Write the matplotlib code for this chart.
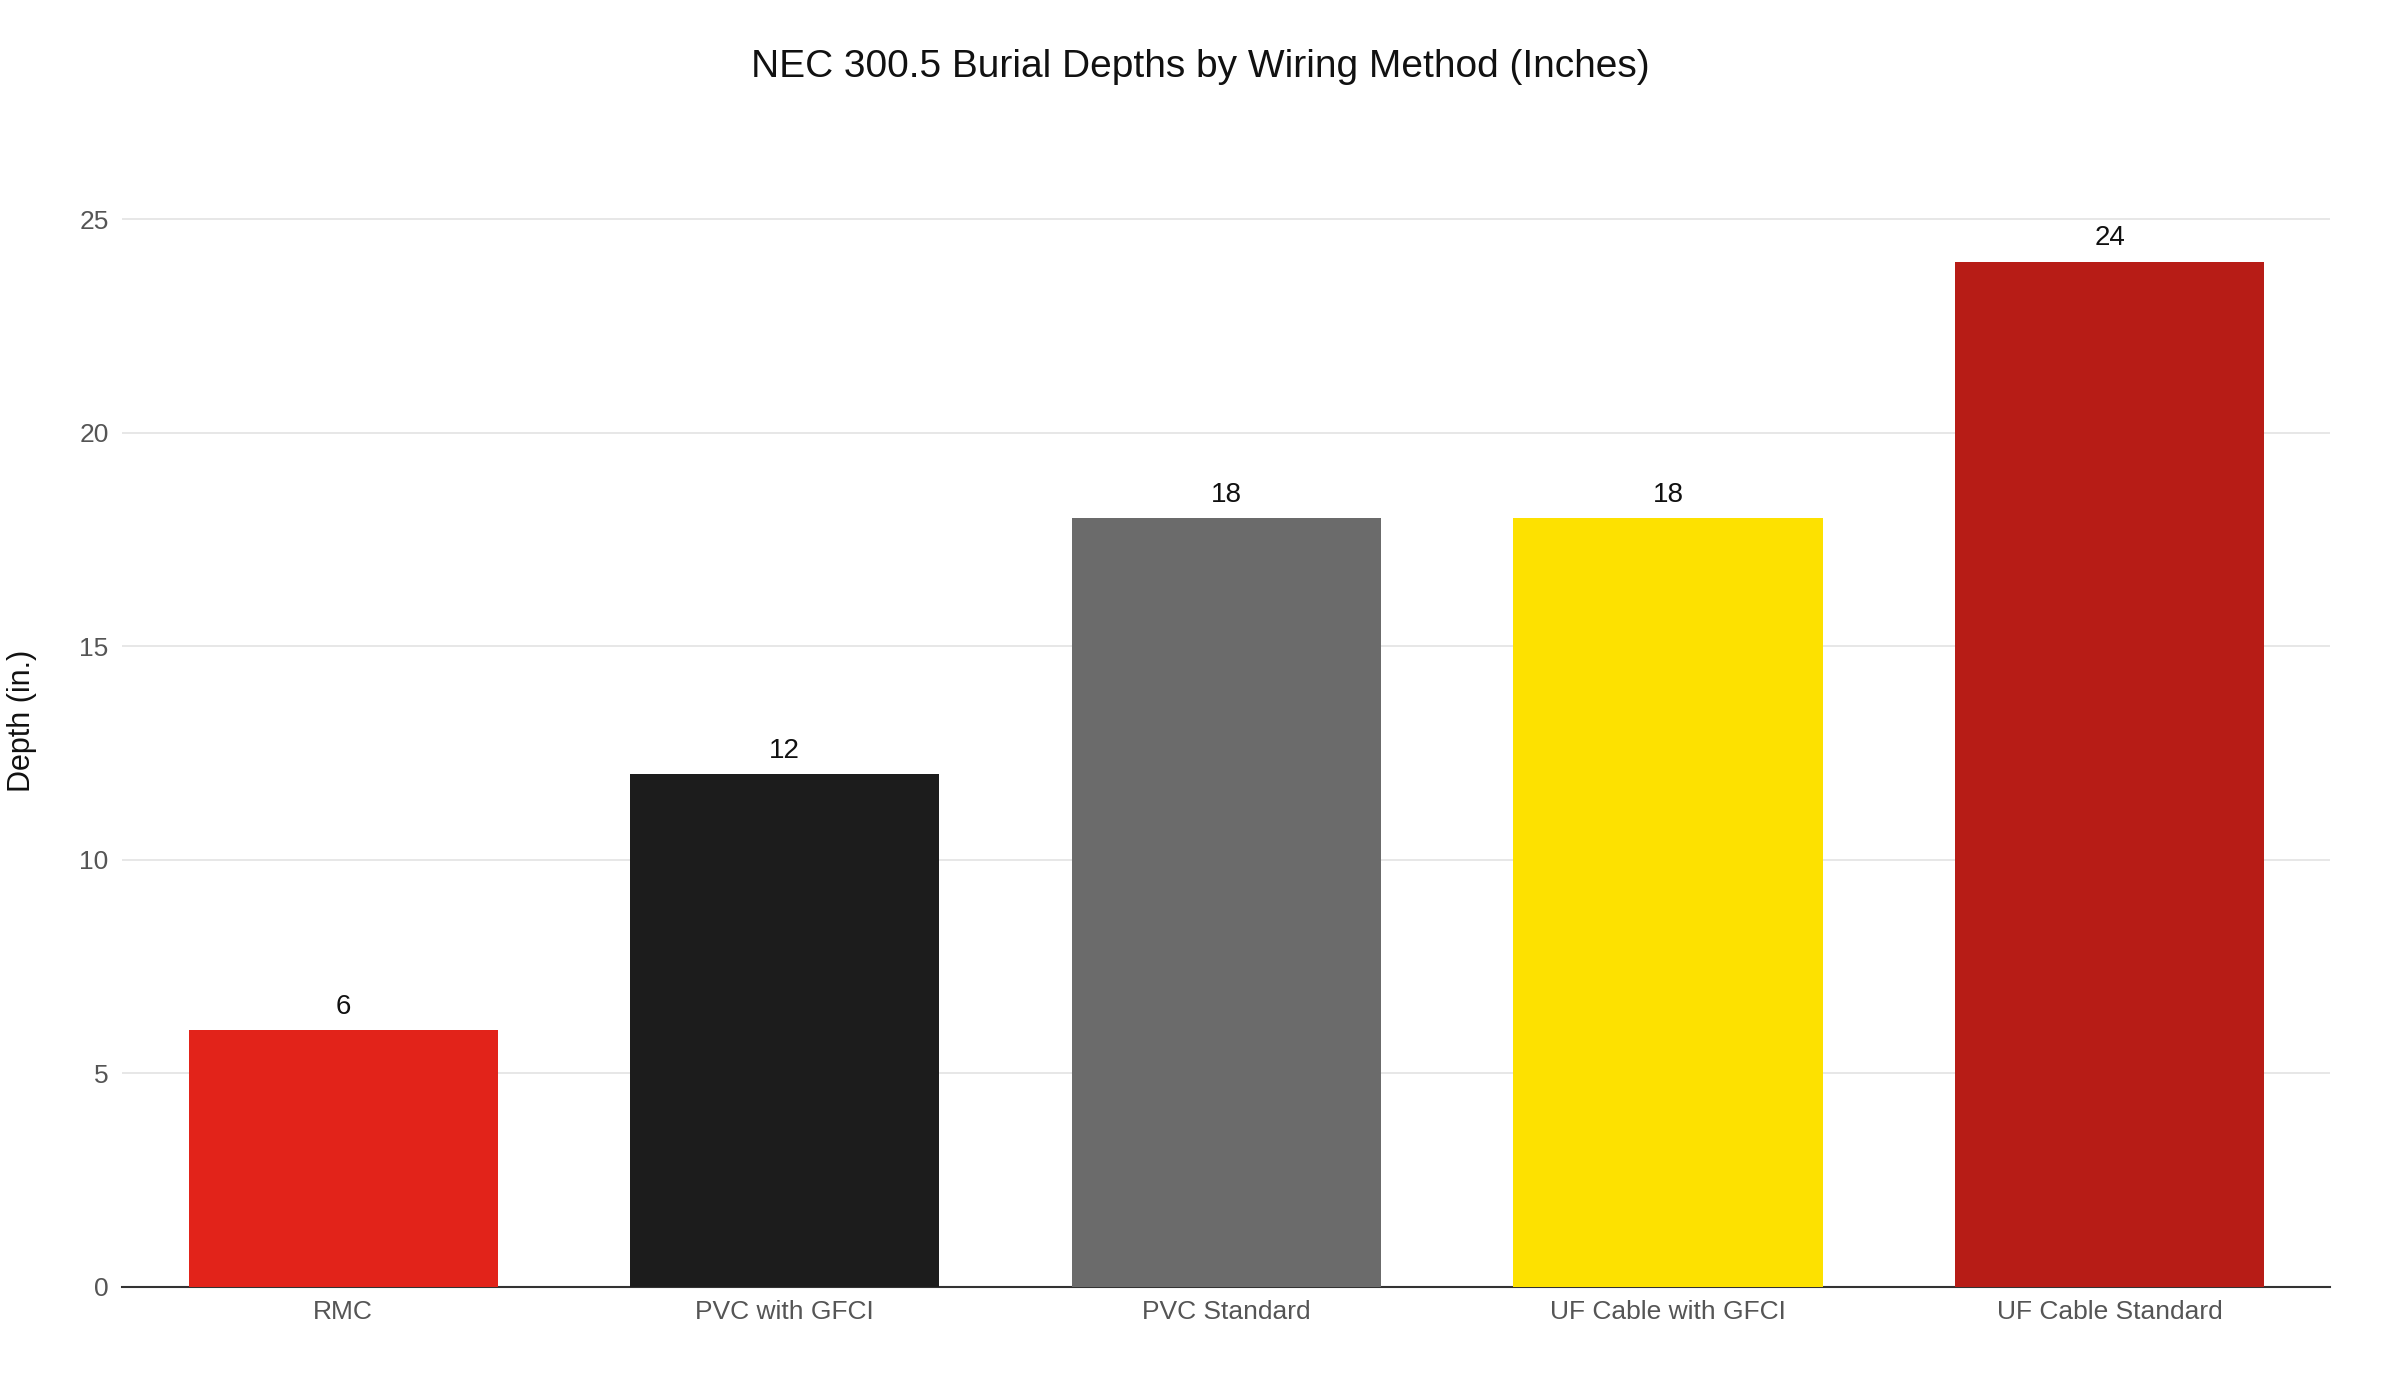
import matplotlib.pyplot as plt

categories = ["RMC", "PVC with GFCI", "PVC Standard", "UF Cable with GFCI", "UF Cable Standard"]
depths = [6, 12, 18, 18, 24]
colors = ["#E2231A", "#1C1C1C", "#6B6B6B", "#FDE100", "#B71C16"]
yticks = [0, 5, 10, 15, 20, 25]

plt.rcParams['font.family'] = ['Liberation Sans', 'DejaVu Sans']
fig = plt.figure(figsize=(24, 14), dpi=100)
ax = fig.add_axes([0.051, 0.081, 0.92, 0.808])

x = range(len(categories))
bars = ax.bar(x, depths, width=0.7, color=colors, zorder=3)
for b, v in zip(bars, depths):
    ax.text(b.get_x() + b.get_width() / 2, v + 0.25, str(v), ha='center', va='bottom',
            fontsize=20, color='#111111')

ax.set_xlim(-0.5, len(categories) - 0.5)
ax.set_ylim(0, 26.5)
ax.set_yticks(yticks)
ax.set_xticks(list(x))
ax.set_xticklabels(categories)
ax.tick_params(axis='both', length=0, labelsize=19, colors='#555555', pad=10)
ax.grid(axis='y', color='#E3E3E3', linewidth=1.2, zorder=0)
for s in ['top', 'right', 'left']:
    ax.spines[s].set_visible(False)
ax.spines['bottom'].set_color('#333333')
ax.spines['bottom'].set_linewidth(1.5)
ax.set_ylabel("Depth (in.)", fontsize=22, color='#111111', labelpad=30)
fig.suptitle("NEC 300.5 Burial Depths by Wiring Method (Inches)", fontsize=28, y=0.965, color='#111111')

fig.savefig("out.png", dpi=100, facecolor='white')
